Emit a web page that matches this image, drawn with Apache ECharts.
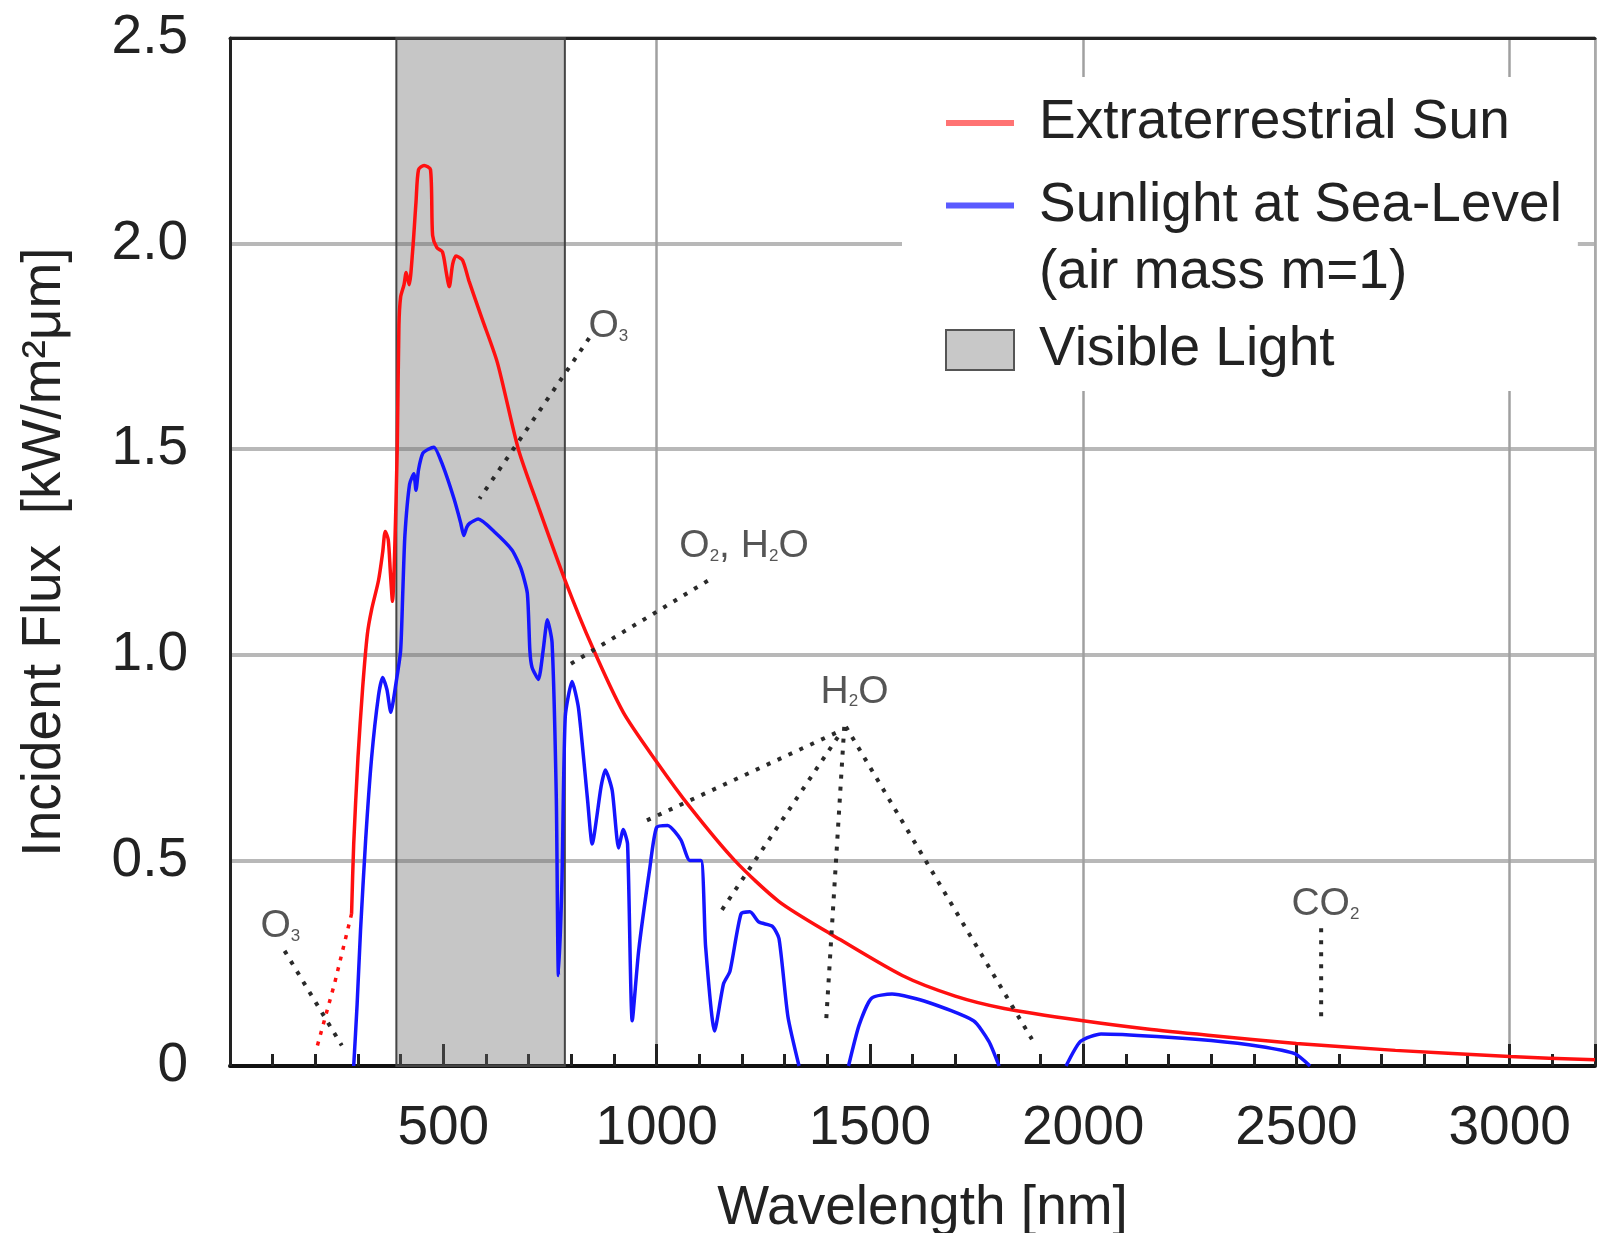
<!DOCTYPE html>
<html><head><meta charset="utf-8">
<script src="https://cdn.jsdelivr.net/npm/echarts@6/dist/echarts.min.js"></script>
<style>html,body{margin:0;padding:0;background:#fff}#chart{width:1597px;height:1233px}</style>
</head><body><div id="chart"></div>
<script>
// ---------- data (wavelength nm, flux kW/m²µm) ----------
const extraterrestrialUV = [[205,0.05],[245,0.2],[285,0.37]];
const extraterrestrial = [[285,0.37],[290,0.54],[300,0.75],[311,0.92],[322,1.05],[332,1.11],[348,1.18],[358,1.25],[364,1.30],[371,1.28],[376,1.20],[381,1.13],[386,1.25],[392,1.50],[396,1.80],[400,1.87],[408,1.90],[413,1.93],[420,1.90],[428,1.98],[436,2.10],[442,2.18],[455,2.19],[470,2.18],[475,2.02],[485,1.99],[498,1.98],[507,1.93],[514,1.895],[522,1.95],[530,1.97],[545,1.96],[560,1.91],[590,1.82],[627,1.71],[676,1.50],[723,1.36],[786,1.18],[849,1.02],[922,0.86],[1000,0.74],[1078,0.63],[1183,0.50],[1287,0.40],[1410,0.32],[1576,0.22],[1700,0.17],[1815,0.14],[2000,0.11],[2150,0.09],[2293,0.075],[2500,0.055],[2732,0.038],[3000,0.023],[3200,0.015]];
const seaLevel = [[290,0],[298,0.15],[306,0.33],[318,0.55],[332,0.75],[348,0.90],[358,0.945],[368,0.915],[377,0.86],[389,0.93],[400,1.01],[405,1.15],[410,1.29],[421,1.415],[431,1.44],[436,1.40],[442,1.45],[452,1.49],[465,1.50],[478,1.505],[499,1.46],[525,1.38],[541,1.32],[548,1.29],[555,1.31],[562,1.32],[582,1.33],[619,1.30],[661,1.255],[682,1.21],[697,1.15],[703,1.01],[708,0.97],[723,0.94],[734,1.01],[744,1.085],[755,1.03],[765,0.65],[770,0.22],[778,0.44],[786,0.85],[802,0.935],[817,0.87],[838,0.65],[849,0.54],[870,0.68],[880,0.72],[896,0.67],[911,0.53],[922,0.575],[932,0.54],[943,0.11],[958,0.28],[984,0.48],[1000,0.58],[1026,0.585],[1057,0.55],[1078,0.50],[1104,0.50],[1115,0.29],[1136,0.085],[1157,0.20],[1172,0.23],[1198,0.37],[1219,0.375],[1240,0.35],[1271,0.34],[1287,0.31],[1308,0.12],[1334,0],[1390,null],[1450,0],[1475,0.10],[1504,0.165],[1552,0.175],[1636,0.155],[1743,0.11],[1779,0.06],[1803,0],[1880,null],[1960,0],[1994,0.06],[2042,0.078],[2173,0.072],[2300,0.062],[2412,0.048],[2496,0.03],[2532,0]];
const visibleRange = [390, 785];
const absorptionLines = [
  [[128,0.28],[262,0.05]],
  [[842,1.77],[585,1.38]],
  [[1120,1.18],[786,0.97]],
  [[1420,0.81],[962,0.59]],
  [[1425,0.80],[1147,0.37]],
  [[1440,0.825],[1397,0.10]],
  [[1444,0.825],[1880,0.065]],
  [[2558,0.335],[2558,0.12]]
];
const absorptionLabels = [
  [118, 0.34, '{m|O}{s|3}'],
  [887, 1.80, '{m|O}{s|3}'],
  [1205, 1.263, '{m|O}{s|2}{m|, H}{s|2}{m|O}'],
  [1464, 0.91, '{m|H}{s|2}{m|O}'],
  [2568, 0.394, '{m|CO}{s|2}']
];
const legendNames = ['Extraterrestrial Sun', 'Sunlight at Sea-Level', '(air mass m=1)', 'Visible Light'];

// ---------- chart ----------
const FONT = '"Liberation Sans", Arial, Helvetica, sans-serif';
const TXT = '#222';
const chart = echarts.init(document.getElementById('chart'), null, {renderer: 'canvas'});

const dotted = [4, 8];
const series = [
  {
    name: legendNames[3], type: 'line', data: [], z: 1, silent: true,
    itemStyle: {color: '#c8c8c8'},
    markArea: {
      silent: true,
      itemStyle: {color: 'rgba(105,105,105,0.38)', borderColor: '#444', borderWidth: 2},
      data: [[{xAxis: visibleRange[0]}, {xAxis: visibleRange[1]}]]
    }
  },
  {
    name: legendNames[0], type: 'line', data: extraterrestrial, symbol: 'none', z: 3, smooth: 0.25,
    lineStyle: {color: '#ff1010', width: 3.5}, itemStyle: {color: '#ff1010'}
  },
  {
    name: 'Extraterrestrial UV', type: 'line', data: extraterrestrialUV, symbol: 'none', z: 3,
    lineStyle: {color: '#ff1010', width: 3.5, type: [4, 7]}
  },
  {
    name: legendNames[1], type: 'line', data: seaLevel, symbol: 'none', z: 3, connectNulls: false, smooth: 0.2,
    lineStyle: {color: '#1515ff', width: 3.5}, itemStyle: {color: '#1515ff'}
  },
  {name: legendNames[2], type: 'line', data: [], symbol: 'none'}
];
absorptionLines.forEach((seg, i) => {
  series.push({
    name: 'absorption' + i, type: 'line', data: seg, symbol: 'none', z: 4, silent: true,
    lineStyle: {color: '#2a2a2a', width: 4, type: dotted}
  });
});
series.push({
  name: 'labels', type: 'scatter', z: 5, silent: true, symbolSize: 1,
  itemStyle: {color: 'rgba(0,0,0,0)'},
  data: absorptionLabels.map(d => ({value: [d[0], d[1]], text: d[2]})),
  label: {
    show: true, position: 'inside', formatter: p => p.data.text,
    rich: {
      m: {fontSize: 39, color: '#2a2a2a', fontFamily: FONT},
      s: {fontSize: 17, color: '#2a2a2a', fontFamily: FONT, padding: [20, 0, 0, 0]}
    }
  }
});

const linePath = 'path://M0,0H100V9H0Z';
const option = {
  animation: false,
  backgroundColor: '#fff',
  textStyle: {fontFamily: FONT},
  grid: {left: 230, right: 2, top: 38, bottom: 167, show: false, containLabel: false, outerBoundsMode: 'none'},
  legend: {
    orient: 'vertical', left: 902, top: 77,
    backgroundColor: '#fff', padding: [3, 16, 3, 43],
    itemGap: 12, itemWidth: 68, itemHeight: 40, symbolKeepAspect: true,
    selectedMode: false,
    textStyle: {fontSize: 55, color: TXT, fontFamily: FONT, padding: [0, 0, 0, 20]},
    data: [
      {name: legendNames[0], icon: linePath, itemStyle: {color: '#ff7373', borderWidth: 0}, textStyle: {lineHeight: 86}},
      {name: legendNames[1], icon: linePath, itemStyle: {color: '#5a5aff', borderWidth: 0}, textStyle: {lineHeight: 47}},
      {name: legendNames[2], icon: 'rect', itemStyle: {color: 'rgba(0,0,0,0)', opacity: 0, borderWidth: 0}, textStyle: {lineHeight: 47}},
      {name: legendNames[3], icon: 'rect', itemStyle: {color: '#c8c8c8', borderColor: '#555', borderWidth: 2}, textStyle: {lineHeight: 76}}
    ]
  },
  xAxis: [
    {
      type: 'value', position: 'bottom', min: 0, max: 3200, interval: 100,
      axisLine: {show: true, onZero: false, lineStyle: {color: '#111', width: 4}},
      axisTick: {show: true, inside: true, length: 12, lineStyle: {color: '#222', width: 3}},
      axisLabel: {show: true, margin: 35, fontSize: 55, color: TXT, fontFamily: FONT,
        formatter: v => (v > 0 && v % 500 === 0 && v <= 3000) ? String(v) : ''},
      splitLine: {show: false},
      name: 'Wavelength [nm]', nameLocation: 'middle', nameGap: 115,
      nameTextStyle: {fontSize: 55, color: TXT, fontFamily: FONT, padding: [0, 0, 0, 20]}
    },
    {
      type: 'value', position: 'top', min: 0, max: 3200, interval: 1000,
      axisLine: {show: true, onZero: false, lineStyle: {color: '#222', width: 3}},
      axisTick: {show: false}, axisLabel: {show: false},
      splitLine: {show: true, lineStyle: {color: '#a0a0a0', width: 2.5}}
    },
    {
      type: 'value', position: 'bottom', min: 0, max: 3200, interval: 500,
      axisLine: {show: false, onZero: false},
      axisTick: {show: true, inside: true, length: 22, lineStyle: {color: '#222', width: 3}},
      axisLabel: {show: false}, splitLine: {show: false}
    }
  ],
  yAxis: [
    {
      type: 'value', position: 'left', min: 0, max: 2.5, interval: 0.5,
      axisLine: {show: true, onZero: false, lineStyle: {color: '#222', width: 3}},
      axisTick: {show: false},
      axisLabel: {margin: 42, fontSize: 55, color: TXT, fontFamily: FONT,
        formatter: v => v === 0 ? '0' : v.toFixed(1)},
      splitLine: {show: true, lineStyle: {color: '#b8b8b8', width: 4}},
      name: 'Incident Flux  [kW/m²μm]', nameLocation: 'middle', nameGap: 158, nameRotate: 90,
      nameTextStyle: {fontSize: 55, color: TXT, fontFamily: FONT}
    },
    {
      type: 'value', position: 'right', min: 0, max: 2.5, interval: 0.5,
      axisLine: {show: true, onZero: false, lineStyle: {color: '#aaa', width: 2}},
      axisTick: {show: false}, axisLabel: {show: false}, splitLine: {show: false}
    }
  ],
  series: series
};
chart.setOption(option);
</script>
</body></html>
